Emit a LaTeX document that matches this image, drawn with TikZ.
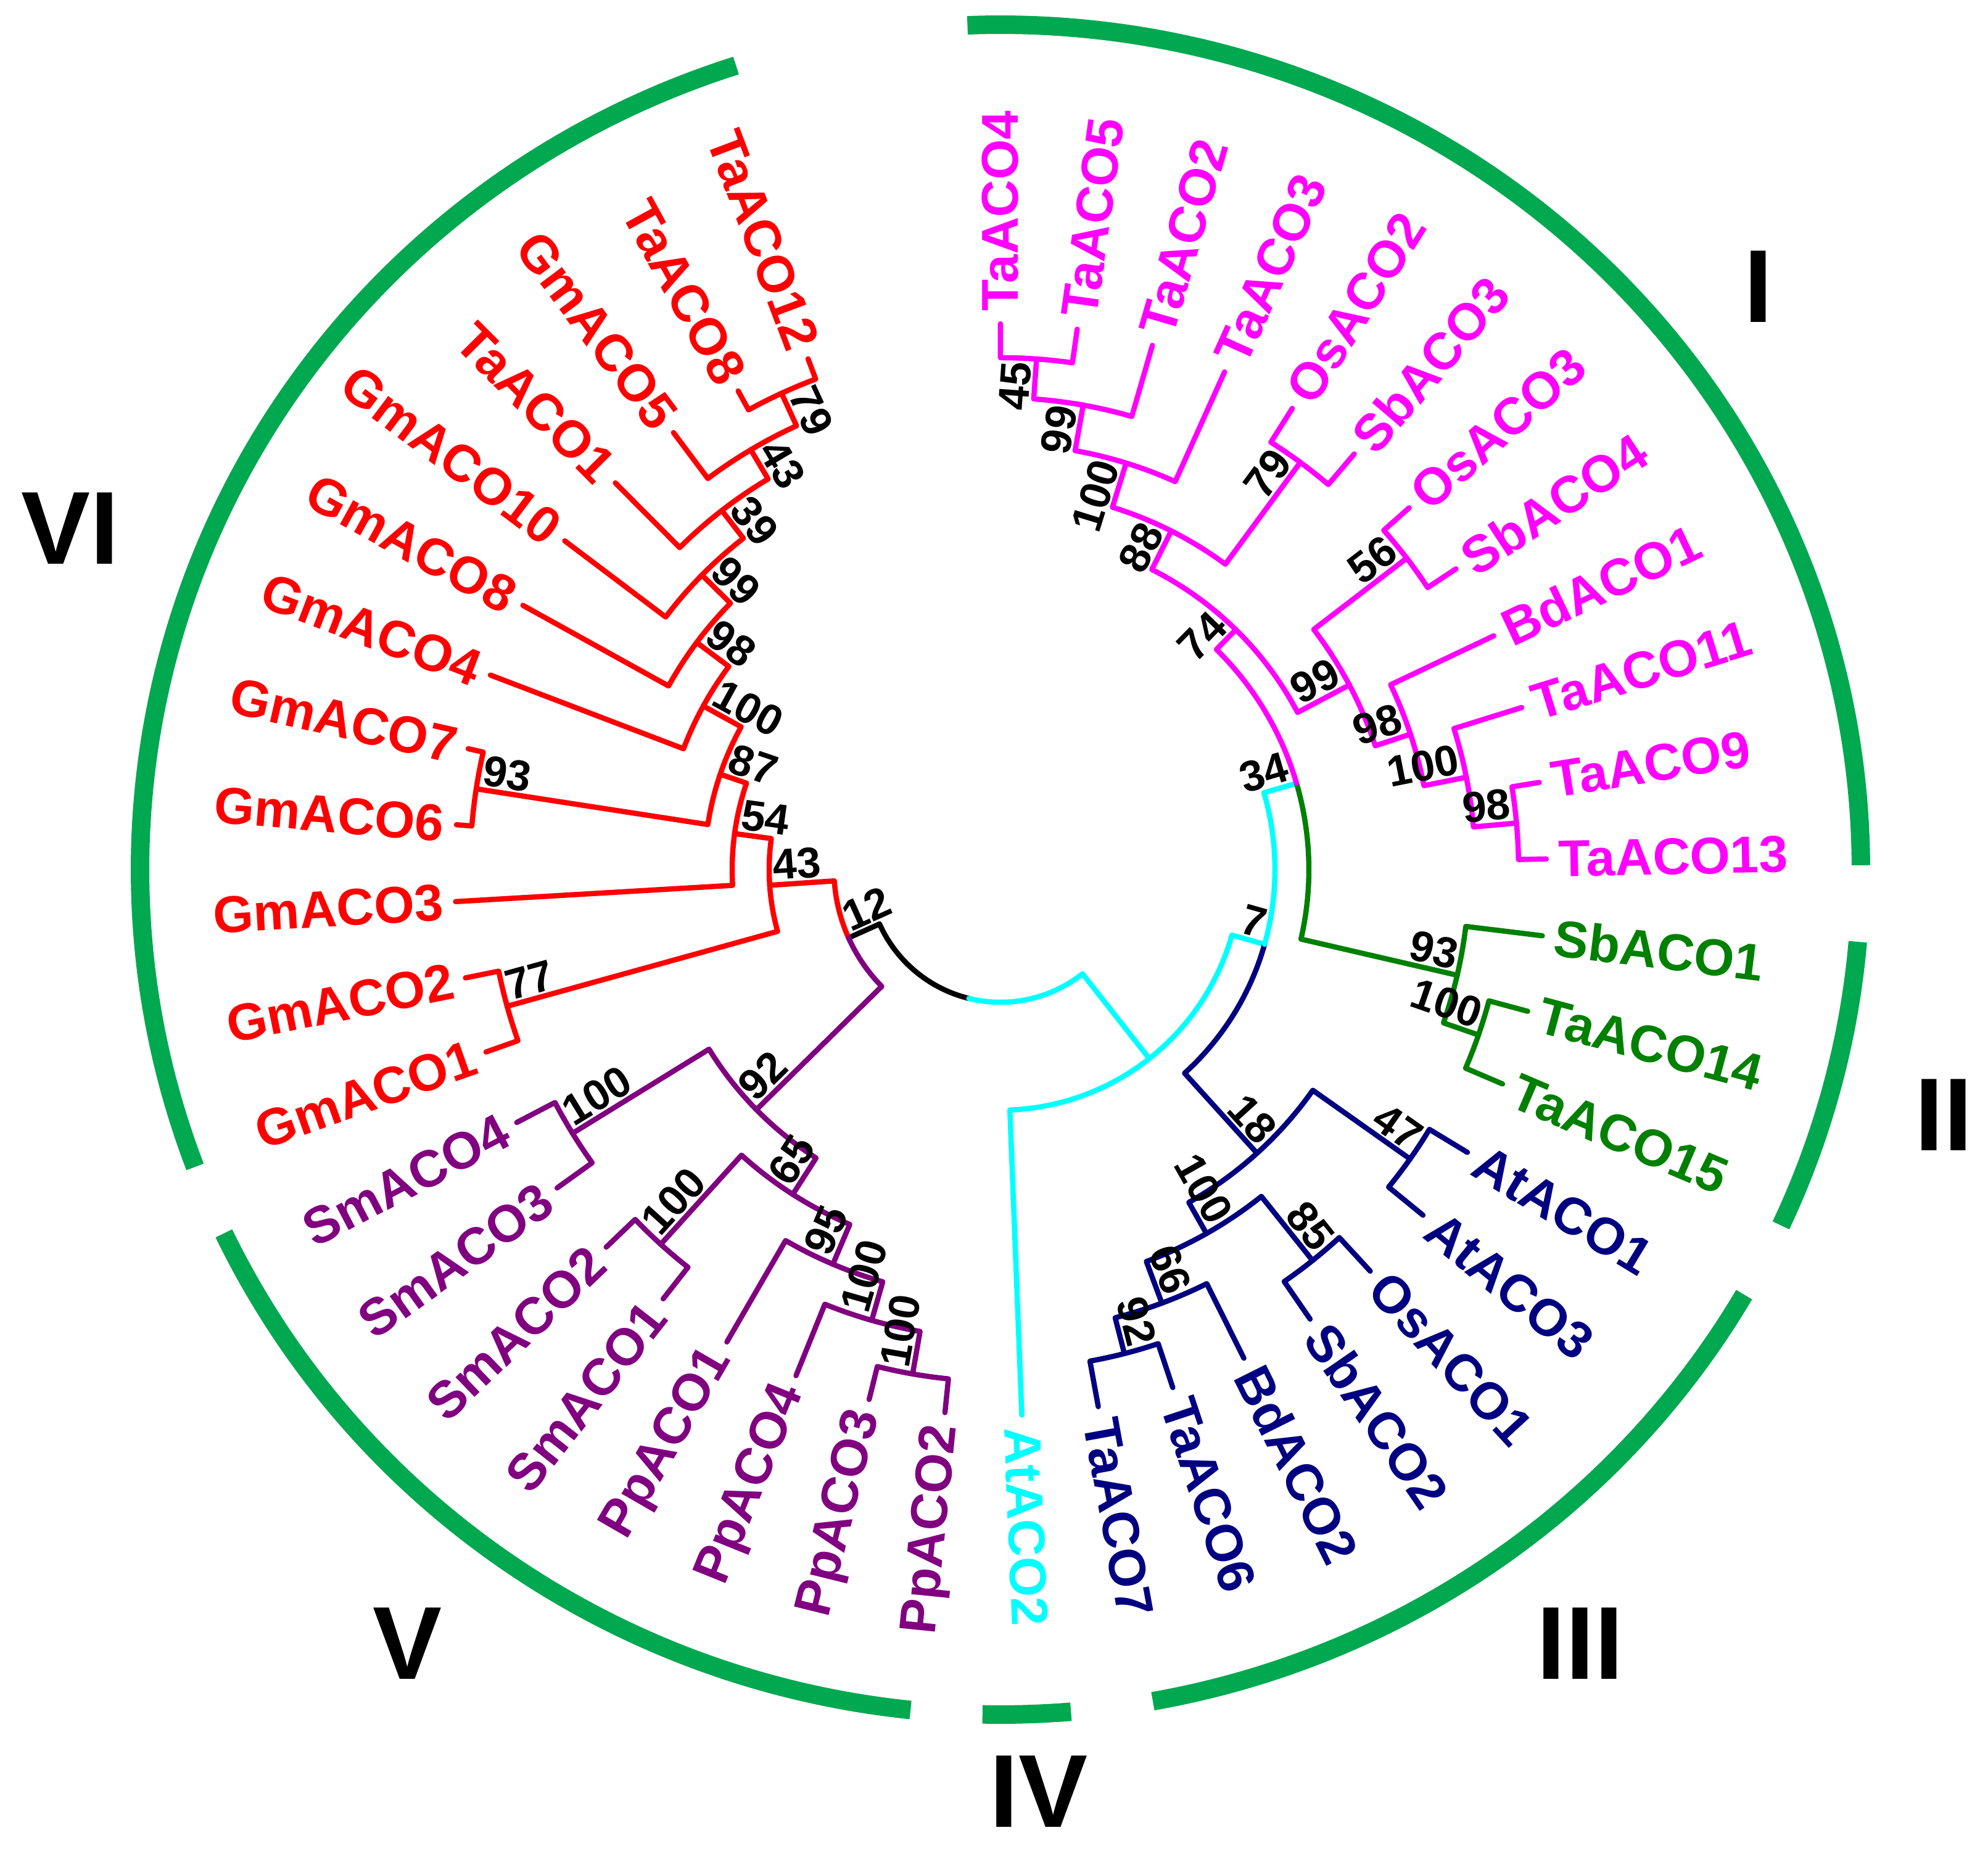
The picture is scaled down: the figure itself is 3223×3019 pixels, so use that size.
\documentclass[tikz,border=0pt]{standalone}
\usepackage{fontspec}
\setmainfont{Liberation Sans}
\definecolor{mag}{RGB}{255,0,255}
\definecolor{rd}{RGB}{255,0,0}
\definecolor{pur}{RGB}{128,0,128}
\definecolor{nav}{RGB}{0,0,128}
\definecolor{dgr}{RGB}{0,128,0}
\definecolor{cy}{RGB}{0,255,255}
\definecolor{ring}{RGB}{0,168,80}
\newcommand\leaffont{\fontsize{84}{84}\selectfont\bfseries}
\newcommand\bsfont{\fontsize{70}{70}\selectfont\bfseries}
\newcommand\romfont{\fontsize{168}{168}\selectfont\bfseries}
\newcommand\brn[5]{\draw[tree,#1] (#2:#3pt) arc[start angle=#2, end angle=#4, radius=#3pt] -- (#4:#5pt);}
\newcommand\lfR[3]{\node[lf,text=#3,rotate=#2,anchor=west] (#1) at (#2:905pt) {#1};}
\newcommand\lfL[3]{\node[lf,text=#3,rotate=#2+180,anchor=east] (#1) at (#2:905pt) {#1};}
\newcommand\bsR[4]{\node[bs,rotate=#2,anchor=south east] (#1) at (#2:#3pt) {#4};}
\newcommand\bsL[4]{\node[bs,rotate=#2+180,anchor=south west] (#1) at (#2:#3pt) {#4};}
\begin{document}
\begin{tikzpicture}[x=1pt,y=1pt,
  tree/.style={line width=8.5pt,line cap=round,line join=round},
  lf/.style={font=\leaffont,inner sep=0pt},
  bs/.style={font=\bsfont,inner sep=7pt,text=black},
  rom/.style={font=\romfont,text=black,inner sep=0pt},
  rg/.style={draw=ring,line width=30pt}]
\useasboundingbox (-1622,-1609) rectangle (1601,1410);
% ring segments
\draw[rg] (0.3:1395pt and 1370pt) arc[start angle=0.3,end angle=92.2,x radius=1395pt,y radius=1370pt];
\draw[rg] (-24.9:1395pt and 1370pt) arc[start angle=-24.9,end angle=-4.9,x radius=1395pt,y radius=1370pt];
\draw[rg] (-79.8:1395pt and 1370pt) arc[start angle=-79.8,end angle=-30.2,x radius=1395pt,y radius=1370pt];
\draw[rg] (-91.2:1395pt and 1370pt) arc[start angle=-91.2,end angle=-85.3,x radius=1395pt,y radius=1370pt];
\draw[rg] (-154.5:1395pt and 1370pt) arc[start angle=-154.5,end angle=-96,x radius=1395pt,y radius=1370pt];
\draw[rg] (-252.1:1395pt and 1370pt) arc[start angle=-252.1,end angle=-159.4,x radius=1395pt,y radius=1370pt];
\node[rom] (rI) at (1229,945) {I};
\node[rom] (rII) at (1529,-398) {II};
\node[rom] (rIII) at (940,-1255) {III};
\node[rom] (rIV) at (62,-1495) {IV};
\node[rom] (rV) at (-961,-1255) {V};
\node[rom] (rVI) at (-1508,553) {VI};
% root
\brn{black}{-103.79}{215}{-155.8}{270}
\brn{cy}{-103.79}{215}{-51.78}{390}
\brn{cy}{-51.78}{390}{-87.76}{885}
\brn{cy}{-51.78}{390}{-15.8}{445}
\brn{nav}{-15.8}{445}{-47.87}{620}
\brn{cy}{-15.8}{445}{16.27}{500}
\brn{dgr}{16.27}{500}{-13.02}{760}
\brn{mag}{16.27}{500}{45.56}{545}
% green
\brn{dgr}{-13.02}{760}{-6.96}{885}
\brn{dgr}{-13.02}{760}{-19.08}{820}
\brn{dgr}{-19.08}{820}{-15.04}{885}
\brn{dgr}{-19.08}{820}{-23.12}{885}
% magenta
\brn{mag}{45.56}{545}{63.24}{615}
\brn{mag}{45.56}{545}{27.89}{640}
\brn{mag}{63.24}{615}{72.83}{690}
\brn{mag}{63.24}{615}{53.64}{820}
\brn{mag}{72.83}{690}{79.9}{765}
\brn{mag}{72.83}{690}{65.76}{885}
\brn{mag}{79.9}{765}{85.96}{830}
\brn{mag}{79.9}{765}{73.84}{885}
\brn{mag}{85.96}{830}{90}{885}
\brn{mag}{85.96}{830}{81.92}{885}
\brn{mag}{53.64}{820}{57.68}{885}
\brn{mag}{53.64}{820}{49.6}{885}
\brn{mag}{27.89}{640}{37.48}{830}
\brn{mag}{27.89}{640}{18.29}{700}
\brn{mag}{37.48}{830}{41.52}{885}
\brn{mag}{37.48}{830}{33.44}{885}
\brn{mag}{18.29}{700}{25.36}{885}
\brn{mag}{18.29}{700}{11.22}{770}
\brn{mag}{11.22}{770}{17.28}{885}
\brn{mag}{11.22}{770}{5.16}{840}
\brn{mag}{5.16}{840}{9.2}{885}
\brn{mag}{5.16}{840}{1.12}{885}
% navy
\brn{nav}{-47.87}{620}{-35.24}{813}
\brn{nav}{-47.87}{620}{-60.49}{678}
\brn{nav}{-35.24}{813}{-31.2}{885}
\brn{nav}{-35.24}{813}{-39.28}{885}
\brn{nav}{-60.49}{678}{-51.4}{811}
\brn{nav}{-60.49}{678}{-69.58}{750}
\brn{nav}{-51.4}{811}{-47.36}{885}
\brn{nav}{-51.4}{811}{-55.44}{885}
\brn{nav}{-69.58}{750}{-63.52}{885}
\brn{nav}{-69.58}{750}{-75.64}{810}
\brn{nav}{-75.64}{810}{-71.6}{885}
\brn{nav}{-75.64}{810}{-79.68}{885}
% node 12
\brn{rd}{-155.8}{270}{-176.12}{375}
\brn{pur}{-155.8}{270}{-135.48}{555}
% purple
\brn{pur}{-135.48}{555}{-148.36}{815}
\brn{pur}{-135.48}{555}{-122.6}{625}
\brn{pur}{-148.36}{815}{-144.32}{885}
\brn{pur}{-148.36}{815}{-152.4}{885}
\brn{pur}{-122.6}{625}{-132.2}{820}
\brn{pur}{-122.6}{625}{-113.01}{695}
\brn{pur}{-132.2}{820}{-128.16}{885}
\brn{pur}{-132.2}{820}{-136.24}{885}
\brn{pur}{-113.01}{695}{-120.08}{885}
\brn{pur}{-113.01}{695}{-105.94}{760}
\brn{pur}{-105.94}{760}{-112}{885}
\brn{pur}{-105.94}{760}{-99.88}{830}
\brn{pur}{-99.88}{830}{-103.92}{885}
\brn{pur}{-99.88}{830}{-95.84}{885}
% red
\brn{rd}{-176.12}{375}{-164.52}{830}
\brn{rd}{-176.12}{375}{-187.72}{435}
\brn{rd}{-164.52}{830}{-160.48}{885}
\brn{rd}{-164.52}{830}{-168.56}{885}
\brn{rd}{-187.72}{435}{-176.64}{885}
\brn{rd}{-187.72}{435}{-198.8}{480}
\brn{rd}{-198.8}{480}{-188.76}{860}
\brn{rd}{-198.8}{480}{-208.84}{550}
\brn{rd}{-188.76}{860}{-184.72}{885}
\brn{rd}{-188.76}{860}{-192.8}{885}
\brn{rd}{-208.84}{550}{-200.88}{885}
\brn{rd}{-208.84}{550}{-216.79}{615}
\brn{rd}{-216.79}{615}{-208.96}{885}
\brn{rd}{-216.79}{615}{-224.62}{680}
\brn{rd}{-224.62}{680}{-217.04}{885}
\brn{rd}{-224.62}{680}{-232.19}{737}
\brn{rd}{-232.19}{737}{-225.12}{885}
\brn{rd}{-232.19}{737}{-239.26}{792}
\brn{rd}{-239.26}{792}{-233.2}{885}
\brn{rd}{-239.26}{792}{-245.32}{850}
\brn{rd}{-245.32}{850}{-241.28}{885}
\brn{rd}{-245.32}{850}{-249.36}{885}
% leaf labels
\lfR{TaACO4}{90}{mag}
\lfR{TaACO5}{81.92}{mag}
\lfR{TaACO2}{73.84}{mag}
\lfR{TaACO3}{65.76}{mag}
\lfR{OsACO2}{57.68}{mag}
\lfR{SbACO3}{49.6}{mag}
\lfR{OsACO3}{41.52}{mag}
\lfR{SbACO4}{33.44}{mag}
\lfR{BdACO1}{25.36}{mag}
\lfR{TaACO11}{17.28}{mag}
\lfR{TaACO9}{9.2}{mag}
\lfR{TaACO13}{1.12}{mag}
\lfR{SbACO1}{-6.96}{dgr}
\lfR{TaACO14}{-15.04}{dgr}
\lfR{TaACO15}{-23.12}{dgr}
\lfR{AtACO1}{-31.2}{nav}
\lfR{AtACO3}{-39.28}{nav}
\lfR{OsACO1}{-47.36}{nav}
\lfR{SbACO2}{-55.44}{nav}
\lfR{BdACO2}{-63.52}{nav}
\lfR{TaACO6}{-71.6}{nav}
\lfR{TaACO7}{-79.68}{nav}
\lfR{AtACO2}{-87.76}{cy}
\lfL{PpACO2}{-95.84}{pur}
\lfL{PpACO3}{-103.92}{pur}
\lfL{PpACO4}{-112}{pur}
\lfL{PpACO1}{-120.08}{pur}
\lfL{SmACO1}{-128.16}{pur}
\lfL{SmACO2}{-136.24}{pur}
\lfL{SmACO3}{-144.32}{pur}
\lfL{SmACO4}{-152.4}{pur}
\lfL{GmACO1}{-160.48}{rd}
\lfL{GmACO2}{-168.56}{rd}
\lfL{GmACO3}{-176.64}{rd}
\lfL{GmACO6}{-184.72}{rd}
\lfL{GmACO7}{-192.8}{rd}
\lfL{GmACO4}{-200.88}{rd}
\lfL{GmACO8}{-208.96}{rd}
\lfL{GmACO10}{-217.04}{rd}
\lfL{TaACO1}{-225.12}{rd}
\lfL{GmACO5}{-233.2}{rd}
\lfL{TaACO8}{-241.28}{rd}
\lfL{TaACO12}{-249.36}{rd}
% bootstrap values
\bsR{b1}{85.96}{830}{45}
\bsR{b2}{79.9}{765}{99}
\bsR{b3}{72.83}{690}{100}
\bsR{b4}{53.64}{820}{79}
\bsR{b5}{63.24}{615}{88}
\bsR{b6}{37.48}{830}{56}
\bsR{b7}{5.16}{840}{98}
\bsR{b8}{11.22}{770}{100}
\bsR{b9}{18.29}{700}{98}
\bsR{b10}{27.89}{640}{99}
\bsR{b11}{45.56}{545}{74}
\bsR{b12}{-13.02}{760}{93}
\bsR{b13}{-19.08}{820}{100}
\bsR{b14}{16.27}{500}{34}
\bsR{b15}{-35.24}{813}{47}
\bsR{b16}{-51.4}{811}{85}
\bsR{b17}{-75.64}{810}{92}
\bsR{b18}{-69.58}{750}{66}
\bsR{b19}{-60.49}{678}{100}
\bsR{b20}{-47.87}{620}{18}
\bsR{b21}{-15.8}{445}{7}
\bsL{b22}{-99.88}{830}{100}
\bsL{b23}{-105.94}{760}{100}
\bsL{b24}{-113.01}{695}{95}
\bsL{b25}{-132.2}{820}{100}
\bsL{b26}{-122.6}{625}{65}
\bsL{b27}{-148.36}{815}{100}
\bsL{b28}{-135.48}{555}{92}
\bsL{b29}{-164.52}{830}{77}
\bsL{b30}{-188.76}{860}{93}
\bsL{b31}{-245.32}{850}{79}
\bsL{b32}{-239.26}{792}{43}
\bsL{b33}{-232.19}{737}{39}
\bsL{b34}{-224.62}{680}{99}
\bsL{b35}{-216.79}{615}{98}
\bsL{b36}{-208.84}{550}{100}
\bsL{b37}{-198.8}{480}{87}
\bsL{b38}{-187.72}{435}{54}
\bsL{b39}{-176.12}{375}{43}
\bsL{b40}{-155.8}{270}{12}
\end{tikzpicture}
\end{document}
